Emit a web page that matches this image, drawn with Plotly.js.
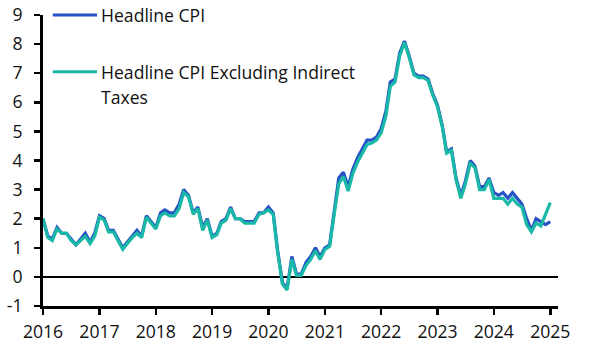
<!DOCTYPE html>
<html>
<head>
<meta charset="utf-8">
<script src="https://cdn.plot.ly/plotly-3.0.1.min.js"></script>
<style>html,body{margin:0;padding:0;background:#fff;}#chart{width:607px;height:354px;}</style>
</head>
<body>
<div id="chart"></div>
<script>
// Monthly, Jan 2016 – Jan 2025, % y/y
const startYear = 2016;
const headlineCPI = [
  2.0,1.4,1.3,1.7,1.5,1.5,1.3,1.1,1.3,1.5,1.2,1.5,
  2.1,2.0,1.6,1.6,1.3,1.0,1.2,1.4,1.6,1.4,2.1,1.9,
  1.7,2.2,2.3,2.2,2.2,2.5,3.0,2.8,2.2,2.4,1.7,2.0,
  1.4,1.5,1.9,2.0,2.4,2.0,2.0,1.9,1.9,1.9,2.2,2.2,
  2.4,2.2,0.9,-0.2,-0.4,0.7,0.1,0.1,0.5,0.7,1.0,0.7,
  1.0,1.1,2.2,3.4,3.6,3.1,3.7,4.1,4.4,4.7,4.7,4.8,
  5.1,5.7,6.7,6.8,7.7,8.1,7.6,7.0,6.9,6.9,6.8,6.3,
  5.9,5.2,4.3,4.4,3.4,2.8,3.3,4.0,3.8,3.1,3.1,3.4,
  2.9,2.8,2.9,2.7,2.9,2.7,2.5,2.0,1.6,2.0,1.9,1.8,
  1.9
];
const cpiExIndirectTaxes = [
  2.0,1.35,1.25,1.65,1.5,1.5,1.25,1.1,1.25,1.4,1.15,1.4,
  2.05,1.95,1.55,1.55,1.25,0.95,1.15,1.35,1.5,1.35,2.05,1.85,
  1.65,2.1,2.2,2.1,2.1,2.35,2.9,2.75,2.15,2.35,1.6,1.95,
  1.35,1.45,1.85,1.95,2.35,2.0,2.0,1.85,1.85,1.85,2.15,2.2,
  2.3,2.15,0.85,-0.25,-0.45,0.6,0.05,0.05,0.4,0.6,0.9,0.6,
  0.95,1.05,2.1,3.2,3.45,2.95,3.55,3.95,4.25,4.55,4.6,4.7,
  4.95,5.55,6.55,6.7,7.6,8.05,7.55,6.95,6.85,6.85,6.75,6.25,
  5.85,5.15,4.25,4.35,3.35,2.7,3.2,3.9,3.75,3.0,3.0,3.35,
  2.7,2.7,2.7,2.5,2.7,2.5,2.4,1.8,1.55,1.85,1.75,2.15,
  2.55
];
const seriesNames = ['Headline CPI', 'Headline CPI Excluding Indirect', 'Taxes'];
const yearTicks = ['2016','2017','2018','2019','2020','2021','2022','2023','2024','2025'];
const yTicks = [-1,0,1,2,3,4,5,6,7,8,9];

const dates = headlineCPI.map((_, i) => {
  const y = startYear + Math.floor(i / 12);
  const m = (i % 12) + 1;
  return y + '-' + String(m).padStart(2, '0') + '-01';
});

const BLUE = '#2652c6';
const TEAL = '#19b8a7';
const FONT = '"Open Sans", "Noto Sans", sans-serif';
const FS = 17.6;

const traces = [
  {x: dates, y: headlineCPI, type: 'scatter', mode: 'lines', name: seriesNames[0],
   line: {color: BLUE, width: 3.2}, showlegend: false},
  {x: dates, y: cpiExIndirectTaxes, type: 'scatter', mode: 'lines', name: seriesNames[1] + ' ' + seriesNames[2],
   line: {color: TEAL, width: 3.2}, showlegend: false}
];

const axisCommon = {
  range: [-1, 9], tickvals: yTicks, ticktext: yTicks.map(String),
  showgrid: false, showline: true, linecolor: '#000', linewidth: 3,
  ticks: 'outside', ticklen: 6, tickwidth: 2.5, tickcolor: '#000',
  tickfont: {family: FONT, size: FS, color: '#111'}, fixedrange: true
};

const layout = {
  width: 607, height: 354,
  margin: {l: 43, r: 49, t: 15, b: 48},
  paper_bgcolor: '#fff', plot_bgcolor: '#fff',
  font: {family: FONT, size: FS, color: '#111'},
  xaxis: {
    type: 'date', range: ['2016-01-01', '2025-02-20'],
    tickvals: yearTicks.map(y => y + '-01-01'), ticktext: yearTicks,
    showgrid: false, showline: true, linecolor: '#000', linewidth: 3,
    ticks: 'outside', ticklen: 6, tickwidth: 2.5, tickcolor: '#000',
    tickfont: {family: FONT, size: FS, color: '#111'}, zeroline: false,
    ticklabelstandoff: 2
  },
  yaxis: Object.assign({}, axisCommon, {
    side: 'left', zeroline: true, zerolinecolor: '#000', zerolinewidth: 2.5,
    ticklabelstandoff: 8
  }),
  yaxis2: Object.assign({}, axisCommon, {
    side: 'right', overlaying: 'y', anchor: 'x', zeroline: false,
    ticklabelstandoff: 7
  }),
  shapes: [
    {type: 'line', xref: 'paper', yref: 'paper', x0: 0.019, x1: 0.105, y0: 1.0, y1: 1.0,
     line: {color: BLUE, width: 3.2}},
    {type: 'line', xref: 'paper', yref: 'paper', x0: 0.019, x1: 0.105, y0: 0.805, y1: 0.805,
     line: {color: TEAL, width: 3.2}}
  ],
  annotations: [
    {xref: 'paper', yref: 'paper', x: 0.109, y: 1.0, xanchor: 'left', yanchor: 'middle',
     text: seriesNames[0], showarrow: false, font: {family: FONT, size: FS, color: '#111'}},
    {xref: 'paper', yref: 'paper', x: 0.109, y: 0.805, xanchor: 'left', yanchor: 'middle',
     text: seriesNames[1], showarrow: false, font: {family: FONT, size: FS, color: '#111'}},
    {xref: 'paper', yref: 'paper', x: 0.109, y: 0.719, xanchor: 'left', yanchor: 'middle',
     text: seriesNames[2], showarrow: false, font: {family: FONT, size: FS, color: '#111'}}
  ]
};

Plotly.newPlot('chart', traces, layout, {staticPlot: true, displayModeBar: false});
</script>
</body>
</html>
